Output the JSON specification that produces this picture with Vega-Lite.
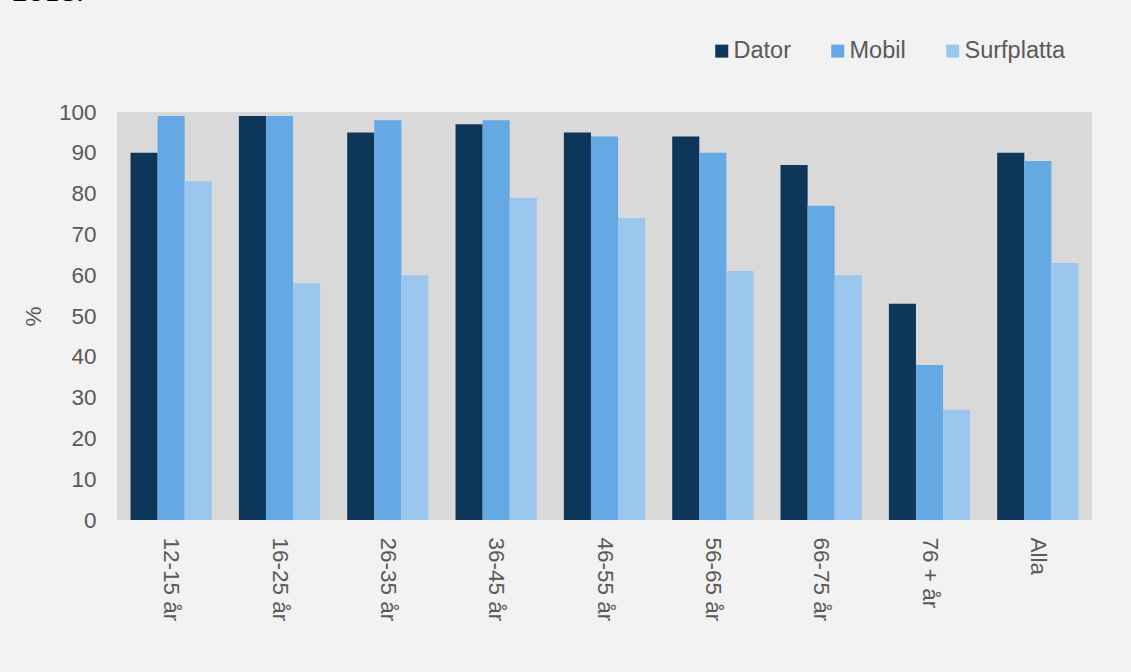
{
  "$schema": "https://vega.github.io/schema/vega-lite/v6.json",
  "width": 975,
  "height": 408,
  "autosize": {"type": "none"},
  "padding": {"left": 117, "top": 112, "right": 39, "bottom": 152},
  "background": "#f2f2f2",
  "config": {
    "view": {"fill": "#d9d9d9", "stroke": null},
    "font": "Liberation Sans"
  },
  "title": {
    "text": "2018.",
    "anchor": "start",
    "frame": "group",
    "font": "DejaVu Serif",
    "fontSize": 23,
    "fontWeight": "bold",
    "color": "#000000",
    "dx": -105,
    "dy": -29
  },
  "data": {
    "values": [
      {"group": "12-15 år", "device": "Dator", "value": 90},
      {"group": "12-15 år", "device": "Mobil", "value": 99},
      {"group": "12-15 år", "device": "Surfplatta", "value": 83},
      {"group": "16-25 år", "device": "Dator", "value": 99},
      {"group": "16-25 år", "device": "Mobil", "value": 99},
      {"group": "16-25 år", "device": "Surfplatta", "value": 58},
      {"group": "26-35 år", "device": "Dator", "value": 95},
      {"group": "26-35 år", "device": "Mobil", "value": 98},
      {"group": "26-35 år", "device": "Surfplatta", "value": 60},
      {"group": "36-45 år", "device": "Dator", "value": 97},
      {"group": "36-45 år", "device": "Mobil", "value": 98},
      {"group": "36-45 år", "device": "Surfplatta", "value": 79},
      {"group": "46-55 år", "device": "Dator", "value": 95},
      {"group": "46-55 år", "device": "Mobil", "value": 94},
      {"group": "46-55 år", "device": "Surfplatta", "value": 74},
      {"group": "56-65 år", "device": "Dator", "value": 94},
      {"group": "56-65 år", "device": "Mobil", "value": 90},
      {"group": "56-65 år", "device": "Surfplatta", "value": 61},
      {"group": "66-75 år", "device": "Dator", "value": 87},
      {"group": "66-75 år", "device": "Mobil", "value": 77},
      {"group": "66-75 år", "device": "Surfplatta", "value": 60},
      {"group": "76 + år", "device": "Dator", "value": 53},
      {"group": "76 + år", "device": "Mobil", "value": 38},
      {"group": "76 + år", "device": "Surfplatta", "value": 27},
      {"group": "Alla", "device": "Dator", "value": 90},
      {"group": "Alla", "device": "Mobil", "value": 88},
      {"group": "Alla", "device": "Surfplatta", "value": 63}
    ]
  },
  "mark": {"type": "bar"},
  "encoding": {
    "x": {
      "field": "group",
      "type": "nominal",
      "sort": null,
      "scale": {"paddingInner": 0.25, "paddingOuter": 0.125},
      "axis": {
        "title": null,
        "labelAngle": 90,
        "labelAlign": "left",
        "labelBaseline": "middle",
        "labelFontSize": 22.5,
        "labelColor": "#595959",
        "labelPadding": 17,
        "ticks": false,
        "domain": false,
        "grid": false
      }
    },
    "xOffset": {
      "field": "device",
      "sort": ["Dator", "Mobil", "Surfplatta"],
      "scale": {"paddingInner": 0, "paddingOuter": 0}
    },
    "y": {
      "field": "value",
      "type": "quantitative",
      "scale": {"domain": [0, 100]},
      "axis": {
        "title": "%",
        "values": [0, 10, 20, 30, 40, 50, 60, 70, 80, 90, 100],
        "grid": false,
        "ticks": false,
        "domain": false,
        "labelFontSize": 22.5,
        "labelColor": "#595959",
        "labelPadding": 21,
        "titleFontSize": 22.5,
        "titleFontWeight": "normal",
        "titleColor": "#595959",
        "titlePadding": 13
      }
    },
    "color": {
      "field": "device",
      "type": "nominal",
      "scale": {
        "domain": ["Dator", "Mobil", "Surfplatta"],
        "range": ["#0e3659", "#65a9e4", "#9bc6ee"]
      },
      "legend": {
        "title": null,
        "orient": "none",
        "direction": "horizontal",
        "legendX": 593,
        "legendY": -73,
        "padding": 0,
        "symbolType": "square",
        "symbolSize": 169,
        "symbolStrokeWidth": 0,
        "labelFontSize": 23.5,
        "labelColor": "#595959",
        "labelOffset": 0,
        "columnPadding": 35
      }
    }
  }
}
